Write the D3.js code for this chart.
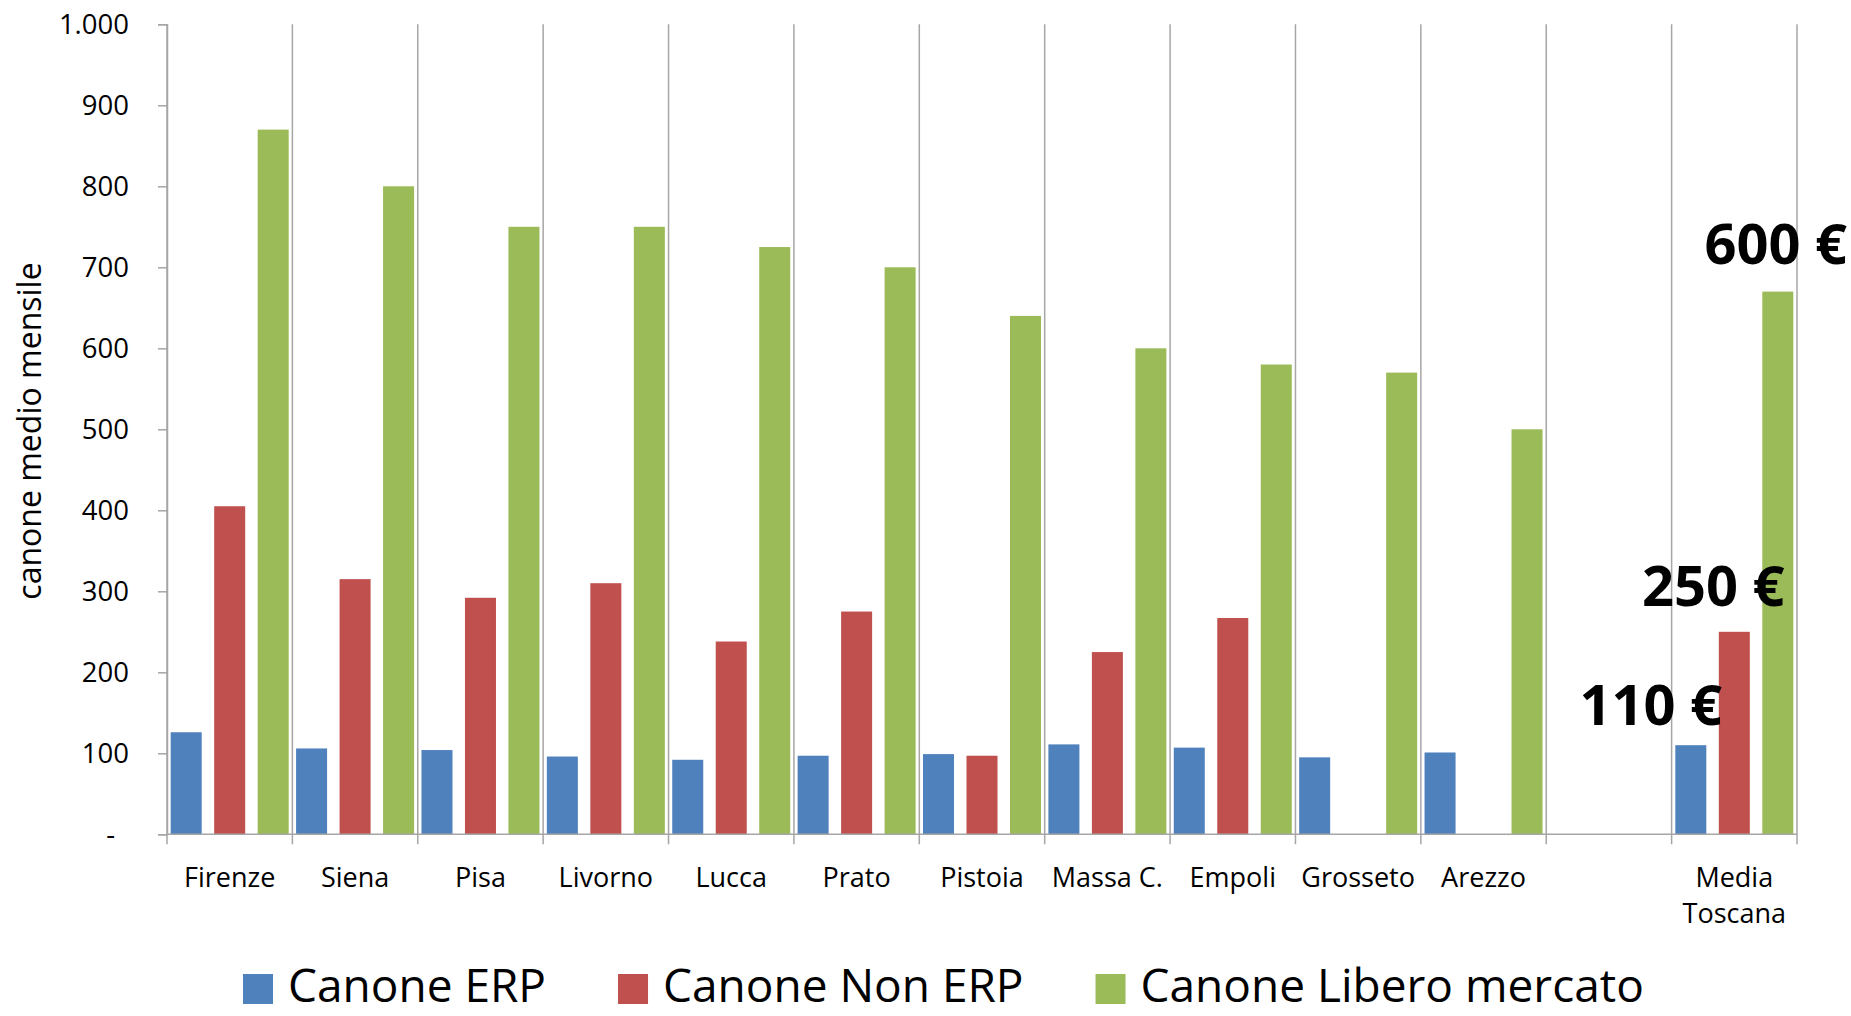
<!DOCTYPE html>
<html>
<head>
<meta charset="utf-8">
<script src="https://cdn.jsdelivr.net/npm/d3@7"></script>
<style>
  html, body { margin: 0; padding: 0; background: #ffffff; }
  svg { display: block; font-family: "Open Sans", "DejaVu Sans", sans-serif; }
</style>
</head>
<body>
<svg id="chart" width="1851" height="1016"></svg>
<script>
// ---- data ----
const categories = ["Firenze", "Siena", "Pisa", "Livorno", "Lucca", "Prato", "Pistoia", "Massa C.", "Empoli", "Grosseto", "Arezzo", "", "Media Toscana"];
const seriesNames = ["Canone ERP", "Canone Non ERP", "Canone Libero mercato"];
const canoneERP    = [126, 106, 104, 96, 92, 97, 99, 111, 107, 95, 101, null, 110];
const canoneNonERP = [405, 315, 292, 310, 238, 275, 97, 225, 267, null, null, null, 250];
const canoneLibero = [870, 800, 750, 750, 725, 700, 640, 600, 580, 570, 500, null, 670];
const yTicks = [0, 100, 200, 300, 400, 500, 600, 700, 800, 900, 1000];
const annotations = ["600 €", "250 €", "110 €"];
const yTitle = "canone medio mensile";

const colors = ["#4F81BD", "#C0504D", "#9BBB59"];
const seriesValues = [canoneERP, canoneNonERP, canoneLibero];

(function () {
// ---- layout ----
const svg = d3.select("#chart");
svg.append("rect").attr("width", 1851).attr("height", 1016).attr("fill", "#fff");

const pLeft = 167, pRight = 1797, pTop = 24.3, pBottom = 834.3;
const gridColor = "#a6a6a6";

const keys = categories.map((c, i) => "k" + i);
const x = d3.scaleBand().domain(keys).range([pLeft, pRight]).padding(0);
const xs = d3.scaleBand().domain(seriesNames).range([0, x.bandwidth()])
  .paddingInner(0.287).paddingOuter(0.085);
const y = d3.scaleLinear().domain([0, 1000]).range([pBottom, pTop]);

// vertical gridlines at category boundaries (including ticks below axis)
const bounds = keys.map(k => x(k)).concat([x(keys[keys.length - 1]) + x.bandwidth()]);
svg.append("g").selectAll("line").data(bounds).join("line")
  .attr("x1", d => d).attr("x2", d => d)
  .attr("y1", pTop).attr("y2", pBottom + 10)
  .attr("stroke", gridColor).attr("stroke-width", 1.5);

// bars
const barData = [];
keys.forEach((k, i) => {
  seriesNames.forEach((s, j) => {
    const v = seriesValues[j][i];
    if (v != null) barData.push({ k, s, v, c: colors[j] });
  });
});
svg.append("g").selectAll("rect").data(barData).join("rect")
  .attr("x", d => x(d.k) + xs(d.s))
  .attr("width", xs.bandwidth())
  .attr("y", d => y(d.v))
  .attr("height", d => y(0) - y(d.v))
  .attr("fill", d => d.c);

// x baseline
svg.append("line")
  .attr("x1", pLeft).attr("x2", pRight).attr("y1", y(0)).attr("y2", y(0))
  .attr("stroke", gridColor).attr("stroke-width", 1.5);

// y axis
const loc = d3.formatLocale({ decimal: ",", thousands: ".", grouping: [3], currency: ["", "€"] });
const fmt = loc.format(",");
const yAxis = d3.axisLeft(y).tickValues(yTicks).tickSize(9).tickPadding(29)
  .tickFormat(d => d === 0 ? "-" : fmt(d));
const gy = svg.append("g").attr("transform", `translate(${pLeft},0)`).call(yAxis);
gy.select(".domain").attr("stroke", gridColor).attr("stroke-width", 1.5);
gy.selectAll(".tick line").attr("stroke", gridColor).attr("stroke-width", 1.5);
gy.selectAll(".tick text").attr("font-size", 27.5).attr("fill", "#000")
  .attr("font-family", "'Open Sans', sans-serif")
  .attr("dx", d => d === 0 ? -14 : 0);

// x labels
const xl = svg.append("g");
keys.forEach((k, i) => {
  const words = categories[i] === "Media Toscana" ? ["Media", "Toscana"] : [categories[i]];
  const t = xl.append("text")
    .attr("x", x(k) + x.bandwidth() / 2)
    .attr("y", 887)
    .attr("text-anchor", "middle")
    .attr("font-size", 27)
    .attr("fill", "#000");
  words.forEach((w, wi) => {
    t.append("tspan").attr("x", x(k) + x.bandwidth() / 2).attr("dy", wi === 0 ? 0 : 36).text(w);
  });
});

// y title
svg.append("text")
  .attr("transform", `translate(41,431) rotate(-90)`)
  .attr("text-anchor", "middle")
  .attr("font-size", 32)
  .attr("fill", "#000")
  .text(yTitle);

// annotations anchored to the "Media Toscana" band
const mk = keys[keys.length - 1];
const mc = x(mk) + x.bandwidth() / 2;
const annOffsets = [[41.5, 264], [-21, 606], [-83.5, 725]];
annotations.forEach((a, i) => {
  svg.append("text")
    .attr("x", mc + annOffsets[i][0])
    .attr("y", annOffsets[i][1])
    .attr("text-anchor", "middle")
    .attr("font-size", 56)
    .attr("font-weight", "bold")
    .attr("fill", "#000")
    .text(a);
});

// legend
const lg = svg.append("g");
let lx = 243;
seriesNames.forEach((s, i) => {
  lg.append("rect").attr("x", lx).attr("y", 974).attr("width", 30).attr("height", 30).attr("fill", colors[i]);
  const t = lg.append("text").attr("x", lx + 45).attr("y", 1002)
    .attr("font-size", 46).attr("fill", "#000").text(s);
  const w = t.node().getComputedTextLength();
  lx = lx + 45 + w + 72;
});
})();
</script>
</body>
</html>
